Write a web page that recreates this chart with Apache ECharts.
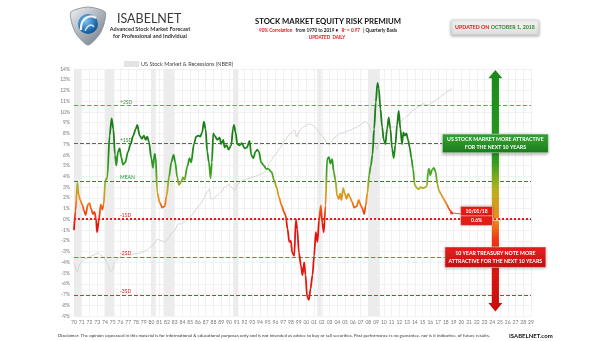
<!DOCTYPE html>
<html>
<head>
<meta charset="utf-8">
<script src="https://cdn.jsdelivr.net/npm/echarts@6/dist/echarts.min.js"></script>
<style>
  html, body { margin: 0; padding: 0; background: #ffffff; }
  #c { width: 605px; height: 341px; }
</style>
</head>
<body>
<div id="c"></div>
<script>
// Equity risk premium (%), quarterly-ish readings, decimal years
const erpYears = [
  1970.00, 1970.20, 1970.43, 1970.60, 1970.80, 1971.05, 1971.30, 1971.50, 1971.80, 1972.00,
  1972.20, 1972.45, 1972.65, 1972.85, 1972.97, 1973.20, 1973.45, 1973.66, 1973.83, 1974.04,
  1974.30, 1974.60, 1974.86, 1975.08, 1975.29, 1975.46, 1975.68, 1975.89, 1976.10, 1976.32,
  1976.62, 1976.97, 1977.31, 1977.65, 1977.96, 1978.17, 1978.47, 1978.77, 1979.03, 1979.25,
  1979.46, 1979.68, 1979.98, 1980.19, 1980.41, 1980.54, 1980.75, 1981.05, 1981.40, 1981.70,
  1981.96, 1982.26, 1982.56, 1982.86, 1983.07, 1983.33, 1983.55, 1983.85, 1984.06, 1984.28,
  1984.62, 1984.92, 1985.13, 1985.48, 1985.78, 1986.08, 1986.30, 1986.55, 1986.77, 1986.99,
  1987.20, 1987.42, 1987.63, 1987.80, 1987.98, 1988.15, 1988.50, 1988.80, 1989.00, 1989.27,
  1989.44, 1989.70, 1989.96, 1990.30, 1990.52, 1990.65, 1990.86, 1991.08, 1991.38, 1991.68,
  1992.02, 1992.32, 1992.67, 1992.88, 1993.14, 1993.44, 1993.66, 1993.87, 1994.17, 1994.52,
  1994.82, 1995.08, 1995.51, 1995.85, 1996.15, 1996.45, 1996.80, 1997.10, 1997.31, 1997.57,
  1997.79, 1998.00, 1998.17, 1998.43, 1998.65, 1998.82, 1999.04, 1999.30, 1999.50, 1999.72,
  1999.89, 2000.10, 2000.32, 2000.53, 2000.79, 2001.00, 2001.22, 2001.43, 2001.65, 2001.87,
  2002.04, 2002.25, 2002.47, 2002.68, 2002.90, 2003.11, 2003.33, 2003.54, 2003.76, 2003.97,
  2004.19, 2004.36, 2004.53, 2004.75, 2004.96, 2005.18, 2005.39, 2005.61, 2005.91, 2006.17,
  2006.47, 2006.77, 2007.03, 2007.24, 2007.46, 2007.67, 2007.89, 2008.10, 2008.32, 2008.53,
  2008.75, 2008.96, 2009.18, 2009.35, 2009.56, 2009.78, 2009.99, 2010.20, 2010.42, 2010.63,
  2010.85, 2011.06, 2011.28, 2011.49, 2011.71, 2011.92, 2012.14, 2012.35, 2012.52, 2012.70,
  2012.91, 2013.13, 2013.34, 2013.56, 2013.77, 2013.99, 2014.29, 2014.50, 2014.76, 2015.06,
  2015.36, 2015.57, 2015.70, 2015.83, 2016.00, 2016.22, 2016.47, 2016.69, 2016.90, 2017.12,
  2017.42, 2017.72, 2017.98, 2018.19, 2018.40, 2018.58, 2018.75
];
const erpValues = [
  -1.0, 0.8, 3.4, 2.3, 1.8, 1.4, 0.8, 0.4, 1.4, 1.5,
  1.0, 0.5, 0.7, 0.0, -1.2, -0.2, 1.4, 0.9, 1.4, 3.6,
  3.9, 7.8, 9.4, 8.4, 6.0, 5.0, 6.3, 6.6, 5.8, 5.1,
  5.3, 6.3, 7.0, 7.8, 8.4, 8.8, 7.8, 7.5, 7.8, 7.4,
  7.7, 7.2, 5.7, 4.8, 6.1, 5.8, 2.5, 1.6, 1.1, 1.2,
  2.2, 3.9, 5.3, 6.0, 5.3, 3.9, 3.2, 3.5, 3.9, 3.7,
  4.9, 5.7, 5.3, 7.0, 7.7, 7.8, 7.7, 8.1, 9.1, 8.4,
  6.3, 5.3, 3.8, 5.3, 8.0, 7.8, 7.4, 7.6, 7.0, 7.4,
  6.7, 6.9, 6.5, 6.9, 8.4, 8.8, 8.1, 7.0, 6.9, 7.1,
  6.6, 6.7, 7.3, 6.0, 5.7, 6.3, 6.5, 6.3, 5.3, 5.0,
  4.7, 4.7, 4.4, 3.6, 3.0, 2.1, 1.3, 0.7, 0.4, -0.9,
  -2.1, -2.0, -3.1, -3.4, 0.0, -0.9, -3.1, -4.3, -5.2, -4.0,
  -5.2, -7.2, -7.5, -6.5, -5.2, -3.4, -1.2, -2.1, 0.0, 1.3,
  -0.3, -1.2, 1.3, 5.6, 5.8, 5.2, 5.6, 4.4, 3.6, 2.2,
  1.9, 2.4, 1.8, 2.9, 2.4, 1.9, 2.4, 2.1, 1.6, 1.1,
  1.2, 1.8, 1.3, 1.0, 0.5, 1.3, 2.5, 4.1, 5.0, 6.0,
  8.4, 10.9, 12.7, 12.2, 10.3, 8.6, 7.4, 7.0, 8.4, 9.5,
  8.4, 6.6, 5.7, 6.9, 8.8, 10.1, 8.4, 7.0, 8.1, 7.8,
  8.0, 7.4, 6.7, 5.7, 4.7, 3.2, 2.9, 2.8, 3.0, 2.9,
  3.0, 3.1, 4.4, 4.7, 4.1, 4.6, 4.8, 4.4, 3.3, 2.7,
  2.3, 1.9, 1.6, 1.3, 1.0, 0.8, 0.6
];

// US stock market index level (log scale, hidden axis)
const mktYears = [
  1969.96, 1970.43, 1970.73, 1971.37, 1971.80, 1972.45, 1973.10, 1973.50, 1973.96, 1974.30,
  1974.73, 1975.03, 1975.25, 1975.60, 1975.90, 1976.30, 1976.90, 1977.40, 1977.83, 1978.30,
  1978.77, 1979.33, 1979.90, 1980.32, 1980.75, 1981.18, 1981.70, 1982.13, 1982.56, 1983.00,
  1983.42, 1983.85, 1984.28, 1984.70, 1985.22, 1985.78, 1986.20, 1986.77, 1987.20, 1987.50,
  1987.63, 1987.90, 1988.50, 1989.00, 1989.44, 1989.96, 1990.50, 1990.73, 1991.16, 1991.80,
  1992.45, 1993.10, 1993.74, 1994.26, 1994.82, 1995.30, 1995.93, 1996.58, 1997.22, 1997.87,
  1998.52, 1998.73, 1999.16, 1999.59, 2000.02, 2000.45, 2000.88, 2001.30, 2001.73, 2002.16,
  2002.60, 2002.90, 2003.24, 2003.67, 2004.32, 2004.96, 2005.61, 2006.25, 2006.90, 2007.55,
  2007.98, 2008.40, 2008.84, 2009.10, 2009.35, 2009.70, 2010.13, 2010.56, 2011.00, 2011.40,
  2011.85, 2012.50, 2013.13, 2013.77, 2014.42, 2015.06, 2015.70, 2016.35, 2016.99, 2017.63,
  2018.28, 2018.84
];
const mktValues = [
  87, 72, 84, 93, 95, 100, 105, 100, 93, 84,
  72, 76, 87, 93, 96, 100, 101, 100, 103, 103,
  106, 110, 118, 125, 138, 134, 130, 138, 153, 164,
  186, 186, 193, 206, 220, 251, 268, 306, 350, 373,
  306, 306, 327, 350, 386, 404, 378, 361, 412, 441,
  455, 470, 487, 502, 537, 633, 723, 836, 974, 1109,
  1187, 1039, 1187, 1267, 1310, 1352, 1310, 1225, 1109, 1039,
  941, 882, 941, 1039, 1109, 1148, 1187, 1242, 1310, 1419,
  1352, 1148, 910, 815, 910, 1039, 1132, 1187, 1267, 1267,
  1352, 1476, 1598, 1764, 1883, 2011, 1948, 2080, 2220, 2403,
  2570, 2745
];

// NBER recessions (start, end)
const recessionStarts = [1969.90, 1973.95, 1979.95, 1981.55, 1990.55, 2001.40, 2007.95];
const recessionEnds   = [1970.90, 1975.22, 1980.55, 1982.88, 1991.22, 2001.95, 2009.48];

// Long-run mean and standard deviation of the premium (%)
const erpMean = 3.54;
const erpSd = 3.53;
const sdNames = ['+2SD', '+1SD', 'MEAN', '-1SD', '-2SD', '-3SD'];
const sdMultipliers = [2, 1, 0, -1, -2, -3];

// Axis ranges and latest reading
const yMin = -9, yMax = 14;
const xMin = 1970, xMax = 2029;
const lastDateLabel = '10/01/18';

const font = 'Lato, "Liberation Sans", sans-serif';

const erpData = erpYears.map((y, i) => [y, erpValues[i]]);
const mktData = mktYears.map((y, i) => [y, mktValues[i]]);
const lastPoint = erpData[erpData.length - 1];

function linear(x2, y2, stops) {
  return {
    type: 'linear', x: 0, y: 0, x2: x2, y2: y2, global: false,
    colorStops: stops.map(s => ({ offset: s[0], color: s[1] }))
  };
}
function radial(cx, cy, r, stops) {
  return {
    type: 'radial', x: cx, y: cy, r: r, global: false,
    colorStops: stops.map(s => ({ offset: s[0], color: s[1] }))
  };
}

const sdStyles = [
  { color: '#5ea857', type: 'dashed', width: 1.1, text: '#3f9a3a' },
  { color: '#4e6e4e', type: 'dashed', width: 1.0, text: '#2f8a2f' },
  { color: '#3a7d3a', type: 'dashed', width: 1.0, text: '#2f8a2f' },
  { color: '#e41c1c', type: 'dotted', width: 2.0, text: '#e02020' },
  { color: '#e45050', type: 'dashed', width: 1.1, text: '#e02020' },
  { color: '#d83030', type: 'dashed', width: 1.0, text: '#e02020' }
];

const sdLineData = sdNames.map((name, i) => ({
  name: name,
  yAxis: +(erpMean + sdMultipliers[i] * erpSd).toFixed(2),
  lineStyle: { color: sdStyles[i].color, type: sdStyles[i].type, width: sdStyles[i].width },
  label: { color: sdStyles[i].text }
}));

const recessionAreas = recessionStarts.map((s, i) => [{ xAxis: s }, { xAxis: recessionEnds[i] }]);

const option = {
  animation: false,
  backgroundColor: '#ffffff',
  textStyle: { fontFamily: font },
  grid: { left: 74, right: 74, top: 69, bottom: 25, containLabel: false },
  legend: {
    left: 124, top: 61, padding: 0, itemWidth: 15, itemHeight: 6, selectedMode: false,
    data: [{ name: 'US Stock Market & Recessions (NBER)', icon: 'rect' }],
    textStyle: { fontSize: 5.5, color: '#444', fontFamily: font, padding: [0, 0, 0, -3] }
  },
  xAxis: {
    type: 'value', min: xMin, max: xMax, interval: 1,
    axisLine: { show: true, lineStyle: { color: '#cfcfcf', width: 1 } },
    axisTick: { show: true, length: 2, lineStyle: { color: '#cfcfcf' } },
    axisLabel: {
      fontSize: 5, color: '#777', margin: 4, fontFamily: font,
      formatter: v => String(Math.round(v) % 100).padStart(2, '0')
    },
    splitLine: { show: true, lineStyle: { color: '#eeeeee', width: 0.8 } }
  },
  yAxis: [
    {
      type: 'value', min: yMin, max: yMax, interval: 1,
      axisLine: { show: false }, axisTick: { show: false },
      axisLabel: { fontSize: 5, color: '#777', margin: 4, formatter: '{value}%', fontFamily: font },
      splitLine: { show: true, lineStyle: { color: '#eeeeee', width: 0.8 } }
    },
    {
      type: 'log', logBase: 10, min: 30, max: 4000, show: false,
      splitLine: { show: false }
    }
  ],
  visualMap: {
    type: 'continuous', show: false, seriesIndex: 3, dimension: 1,
    min: -0.5, max: 7.5,
    inRange: { color: ['#e5140d', '#ee4410', '#f2891a', '#b5ae22', '#52a424', '#2b9a1f', '#20891a', '#1a7d15'] }
  },
  series: [
    {
      name: 'US Stock Market & Recessions (NBER)',
      type: 'line', data: [], z: 1,
      itemStyle: { color: '#e3e3e3' },
      lineStyle: { color: '#e3e3e3' },
      markArea: {
        silent: true,
        itemStyle: { color: '#ececec', opacity: 1 },
        data: recessionAreas
      }
    },
    {
      name: 'US Stock Market',
      type: 'line', yAxisIndex: 1, data: mktData, z: 2,
      showSymbol: false, smooth: 0.2, smoothMonotone: 'x',
      lineStyle: { color: '#d4d4d4', width: 1 },
      itemStyle: { color: '#d4d4d4' }
    },
    {
      name: 'Bands',
      type: 'line', data: [], z: 3,
      markLine: {
        silent: true, symbol: ['none', 'none'],
        label: {
          show: true, position: 'insideStartTop', distance: [46, 1],
          fontSize: 5, fontFamily: font, formatter: '{b}'
        },
        data: sdLineData
      }
    },
    {
      name: 'Equity Risk Premium',
      type: 'line', data: erpData, z: 5,
      showSymbol: false, smooth: 0.3, smoothMonotone: 'x',
      lineStyle: { width: 1.8 }
    },
    {
      name: 'Latest',
      type: 'scatter', data: [lastPoint], z: 6,
      symbolSize: 3, itemStyle: { color: '#e4201a' }
    }
  ]
};

const chart = echarts.init(document.getElementById('c'), null, { renderer: 'canvas' });
chart.setOption(option);

const px = (x, y) => chart.convertToPixel({ xAxisIndex: 0, yAxisIndex: 0 }, [x, y]);

// Direction arrows to the right of the series
const arrowYear = 2024.4;
const ax = px(arrowYear, 0)[0];
const yTopTip = px(arrowYear, 13.9)[1];
const yZero = px(arrowYear, 0)[1];
const yBotTip = px(arrowYear, -8.57)[1];
const shaftHalf = 3.6, headHalf = 7, headLen = 8.3;

const upArrow = [
  [ax - shaftHalf, yZero - 0.8], [ax - shaftHalf, yTopTip + headLen], [ax - headHalf, yTopTip + headLen],
  [ax, yTopTip], [ax + headHalf, yTopTip + headLen], [ax + shaftHalf, yTopTip + headLen], [ax + shaftHalf, yZero - 0.8]
];
const downArrow = [
  [ax - shaftHalf, yZero + 1.2], [ax - shaftHalf, yBotTip - headLen], [ax - headHalf, yBotTip - headLen],
  [ax, yBotTip], [ax + headHalf, yBotTip - headLen], [ax + shaftHalf, yBotTip - headLen], [ax + shaftHalf, yZero + 1.2]
];

const plus1 = px(arrowYear, erpMean + erpSd)[1];
const minus2 = px(arrowYear, erpMean - 2 * erpSd)[1];
const lp = px(lastPoint[0], lastPoint[1]);

function box(cx, cy, w, h, top, bottom, lines, fontSize) {
  return [
    {
      type: 'rect', z: 30, shape: { x: cx - w / 2, y: cy - h / 2, width: w, height: h },
      style: {
        fill: linear(0, 1, [[0, top], [1, bottom]]),
        stroke: 'rgba(255,255,255,0.8)', lineWidth: 0.6,
        shadowBlur: 3, shadowColor: 'rgba(0,0,0,0.35)', shadowOffsetY: 1
      }
    },
    {
      type: 'text', z: 31, x: cx, y: cy,
      style: {
        text: lines, fill: '#ffffff', font: 'bold ' + fontSize + 'px ' + font,
        align: 'center', verticalAlign: 'middle', lineHeight: fontSize + 2.2
      }
    }
  ];
}

const graphics = [
  // Logo: silver shield with a blue swirl
  {
    type: 'polygon', z: 10,
    shape: { points: [[88, 7], [105, 12], [104, 24], [99, 35], [88, 45], [77, 35], [72, 24], [71, 12]], smooth: 0.25 },
    style: {
      fill: linear(1, 1, [[0, '#f2f4f6'], [0.5, '#aab2ba'], [1, '#6e7880']]),
      stroke: '#7d868e', lineWidth: 0.8
    }
  },
  {
    type: 'circle', z: 11, shape: { cx: 88, cy: 24, r: 10 },
    style: { fill: radial(0.4, 0.35, 0.8, [[0, '#7cc4ee'], [0.6, '#1f6fb4'], [1, '#0e3f78']]) }
  },
  {
    type: 'bezierCurve', z: 12,
    shape: { x1: 81, y1: 30, x2: 96, y2: 18, cpx1: 80, cpy1: 18, cpx2: 90, cpy2: 14 },
    style: { stroke: 'rgba(255,255,255,0.9)', lineWidth: 2.2, fill: null }
  },
  {
    type: 'bezierCurve', z: 12,
    shape: { x1: 85, y1: 31, x2: 94, y2: 27, cpx1: 88, cpy1: 24, cpx2: 92, cpy2: 24 },
    style: { stroke: 'rgba(255,255,255,0.8)', lineWidth: 1.4, fill: null }
  },
  {
    type: 'text', z: 10, x: 117, y: 19,
    style: { text: 'ISABELNET', font: '12.5px ' + font, fill: '#3a3a3a', verticalAlign: 'middle' }
  },
  {
    type: 'text', z: 10, x: 150, y: 29.5,
    style: { text: 'Advanced Stock Market Forecast', font: 'bold 5.5px ' + font, fill: '#333', align: 'center', verticalAlign: 'middle' }
  },
  {
    type: 'text', z: 10, x: 150, y: 36,
    style: { text: 'for Professional and Individual', font: 'bold 5.5px ' + font, fill: '#333', align: 'center', verticalAlign: 'middle' }
  },
  // Title block
  {
    type: 'text', z: 10, x: 328, y: 22,
    style: { text: 'STOCK MARKET EQUITY RISK PREMIUM', font: 'bold 7.7px ' + font, fill: '#111', align: 'center', verticalAlign: 'middle' }
  },
  {
    type: 'text', z: 10, x: 328, y: 30.5,
    style: {
      text: '{r|90% Correlation} {k|from 1970 to 2019 •} {r|R² = 0.97} {k|| Quarterly Basis}',
      align: 'center', verticalAlign: 'middle',
      rich: {
        r: { font: 'bold 4.6px ' + font, fill: '#e01818' },
        k: { font: 'bold 4.6px ' + font, fill: '#222' }
      }
    }
  },
  {
    type: 'text', z: 10, x: 327, y: 37.5,
    style: { text: 'UPDATED  DAILY', font: 'bold 4.6px ' + font, fill: '#e01818', align: 'center', verticalAlign: 'middle' }
  },
  // Update badge
  {
    type: 'rect', z: 10, shape: { x: 451, y: 20, width: 88, height: 15, r: 1.5 },
    style: {
      fill: linear(0, 1, [[0, '#f7f7f7'], [1, '#dcdcdc']]),
      stroke: '#cfcfcf', lineWidth: 0.6, shadowBlur: 3, shadowColor: 'rgba(0,0,0,0.3)', shadowOffsetY: 1
    }
  },
  {
    type: 'text', z: 11, x: 495, y: 27.5,
    style: {
      text: '{r|UPDATED ON }{g|OCTOBER 1, 2018}', align: 'center', verticalAlign: 'middle',
      rich: {
        r: { font: 'bold 5.3px ' + font, fill: '#e01818' },
        g: { font: 'bold 5.3px ' + font, fill: '#2c8a2c' }
      }
    }
  },
  // Arrows
  {
    type: 'polygon', z: 20, shape: { points: upArrow },
    style: { fill: linear(0, 1, [[0, '#198a19'], [0.6, '#2a9a22'], [0.8, '#b4b21e'], [1, '#f28a1c']]) }
  },
  {
    type: 'polygon', z: 20, shape: { points: downArrow },
    style: { fill: linear(0, 1, [[0, '#f28a1c'], [0.2, '#ec3a14'], [0.45, '#e01a10'], [1, '#c80c0c']]) }
  },
  ...box(ax, plus1, 106, 18.7, '#36a636', '#1c7c1c', 'US STOCK MARKET MORE ATTRACTIVE\nFOR THE NEXT 10 YEARS', 5.2),
  ...box(ax, minus2, 101, 20.5, '#ea2020', '#c40e0e', '10 YEAR TREASURY NOTE MORE\nATTRACTIVE FOR THE NEXT 10 YEARS', 5.2),
  // Latest reading callout
  {
    type: 'line', z: 25, shape: { x1: lp[0], y1: lp[1], x2: lp[0] + 9, y2: lp[1] + 1 },
    style: { stroke: '#e4201a', lineWidth: 0.8 }
  },
  {
    type: 'rect', z: 26, shape: { x: lp[0] + 9, y: lp[1] - 6.5, width: 32, height: 9.5 },
    style: { fill: '#e41c16', stroke: 'rgba(255,255,255,0.9)', lineWidth: 0.5, shadowBlur: 2, shadowColor: 'rgba(0,0,0,0.3)' }
  },
  {
    type: 'rect', z: 26, shape: { x: lp[0] + 9, y: lp[1] + 3, width: 32, height: 9.5 },
    style: { fill: '#e41c16', stroke: 'rgba(255,255,255,0.9)', lineWidth: 0.5, shadowBlur: 2, shadowColor: 'rgba(0,0,0,0.3)' }
  },
  {
    type: 'text', z: 27, x: lp[0] + 25, y: lp[1] - 1.7,
    style: { text: lastDateLabel, font: 'bold 5px ' + font, fill: '#fff', align: 'center', verticalAlign: 'middle' }
  },
  {
    type: 'text', z: 27, x: lp[0] + 25, y: lp[1] + 7.8,
    style: { text: lastPoint[1].toFixed(1) + '%', font: 'bold 5px ' + font, fill: '#fff', align: 'center', verticalAlign: 'middle' }
  },
  // Footer
  {
    type: 'text', z: 10, x: 58, y: 336,
    style: {
      text: 'Disclaimer: The opinion expressed in this material is for informational & educational purposes only and is not intended as advice to buy or sell securities. Past performance is no guarantee, nor is it indicative, of future results.',
      font: '4.45px ' + font, fill: '#333', verticalAlign: 'middle'
    }
  },
  {
    type: 'text', z: 10, x: 509, y: 336,
    style: { text: 'ISABELNET.com', font: 'bold 6px ' + font, fill: '#111', verticalAlign: 'middle' }
  }
];

chart.setOption({ graphic: graphics });
</script>
</body>
</html>
